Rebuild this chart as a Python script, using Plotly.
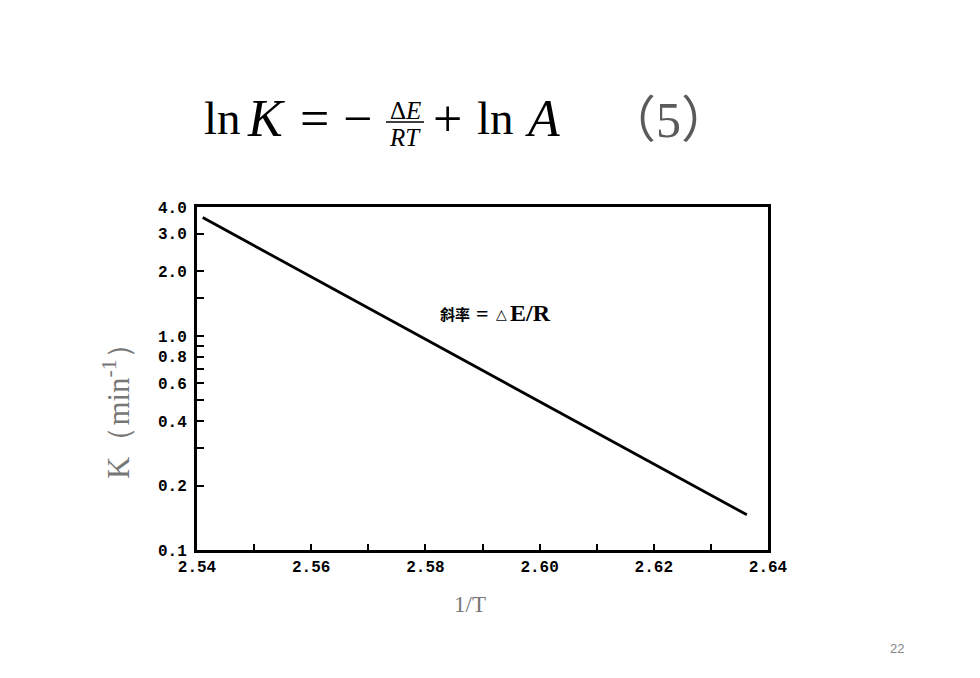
import plotly.graph_objects as go

# Data
inv_T = [2.541, 2.5756, 2.6363]
K_vals = [3.57, 1.12, 0.146]

x_tick_vals = [2.54, 2.56, 2.58, 2.60, 2.62, 2.64]
x_tick_text = ["2.54", "2.56", "2.58", "2.60", "2.62", "2.64"]
x_minor_vals = [2.55, 2.57, 2.59, 2.61, 2.63]
y_tick_vals = [0.1, 0.2, 0.4, 0.6, 0.8, 1.0, 2.0, 3.0, 4.0]
y_tick_text = ["0.1", "0.2", "0.4", "0.6", "0.8", "1.0", "2.0", "3.0", "4.0"]
y_minor_vals = [0.3, 0.5, 0.7, 0.9, 1.5]

OFF = 8  # page body margin
W, H = 980 - OFF, 678 - OFF
L, R, T, B = 197, 768, 207, 550


def px(x):
    return (x - OFF) / W


def py(y):
    return 1 - (y - OFF) / H


fig = go.Figure()
fig.add_trace(go.Scatter(x=inv_T, y=K_vals, mode="lines",
                         line=dict(color="black", width=2.8), showlegend=False,
                         hoverinfo="skip"))

tickfont = dict(family="Liberation Mono, Courier New, monospace", size=16, color="black", weight="bold")
fig.update_layout(
    template="none",
    width=W, height=H,
    margin=dict(l=0, r=0, t=0, b=0, pad=0, autoexpand=False),
    paper_bgcolor="white", plot_bgcolor="white",
    xaxis=dict(domain=[px(L), px(R)], range=[2.54, 2.64], tickmode="array",
               tickvals=x_tick_vals, ticktext=x_tick_text, ticks="inside", ticklen=6,
               tickwidth=2, tickcolor="black", showgrid=False, zeroline=False,
               showline=True, linewidth=3, linecolor="black", mirror=True,
               tickfont=tickfont, automargin=False, ticklabelstandoff=0,
               minor=dict(tickmode="array", tickvals=x_minor_vals, ticks="inside",
                          ticklen=6, tickwidth=2, tickcolor="black", showgrid=False)),
    yaxis=dict(domain=[py(B), py(T)], type="log", range=[-1, 0.60206],
               tickmode="array", tickvals=y_tick_vals, ticktext=y_tick_text,
               ticks="inside", ticklen=7, tickwidth=2, tickcolor="black",
               showgrid=False, zeroline=False, showline=True, linewidth=3,
               linecolor="black", mirror=True, tickfont=tickfont, automargin=False,
               ticklabelstandoff=4,
               minor=dict(tickmode="array", tickvals=y_minor_vals, ticks="inside",
                          ticklen=7, tickwidth=2, tickcolor="black", showgrid=False)),
)


def ann(text, x, y, size, color="black", xanchor="left", yanchor="middle",
        family="Liberation Serif, Times New Roman, serif", angle=0, weight="normal"):
    fig.add_annotation(text=text, x=px(x), y=py(y), xref="paper", yref="paper",
                       showarrow=False, xanchor=xanchor, yanchor=yanchor, textangle=angle,
                       borderpad=0,
                       font=dict(family=family, size=size, color=color, weight=weight))


# Equation
eq_y = 118
ann("ln", 203, eq_y, 47)
ann("<i>K</i>", 246, eq_y, 52)
ann("=", 299, eq_y, 52)
ann("−", 342, eq_y, 52)
ann("Δ<i>E</i>", 405, 110, 25, xanchor="center")
ann("<i>RT</i>", 405, 137, 25, xanchor="center")
fig.add_shape(type="line", xref="paper", yref="paper", x0=px(386), x1=px(424),
              y0=py(122), y1=py(122), line=dict(color="black", width=1.5))
ann("+", 432, eq_y, 52)
ann("ln", 476, eq_y, 47)
ann("<i>A</i>", 524, eq_y, 52)
ann("（5）", 668, 120, 50, color="#5a5a5a", xanchor="center",
    family="Liberation Serif, Noto Sans CJK SC, serif")

# Slope label
ann("斜率", 471, 314, 15, xanchor="right",
    family="Noto Sans CJK SC, sans-serif", weight="bold")
ann("=", 482, 313, 22, xanchor="center", weight="bold")
ann("△", 501, 314, 14, xanchor="center",
    family="DejaVu Sans, sans-serif", weight="bold")
ann("E/R", 509, 313, 24, xanchor="left", weight="bold")

# Axis titles
ann("K（min<sup>-1</sup>）", 116, 404, 31, color="#777777", xanchor="center",
    angle=-90)
ann("1/T", 470, 604, 23, color="#777777", xanchor="center")

# Page number
ann("22", 897, 648, 13, color="#888888", xanchor="center",
    family="Liberation Sans, Arial, sans-serif")

fig.write_html("out.html")
